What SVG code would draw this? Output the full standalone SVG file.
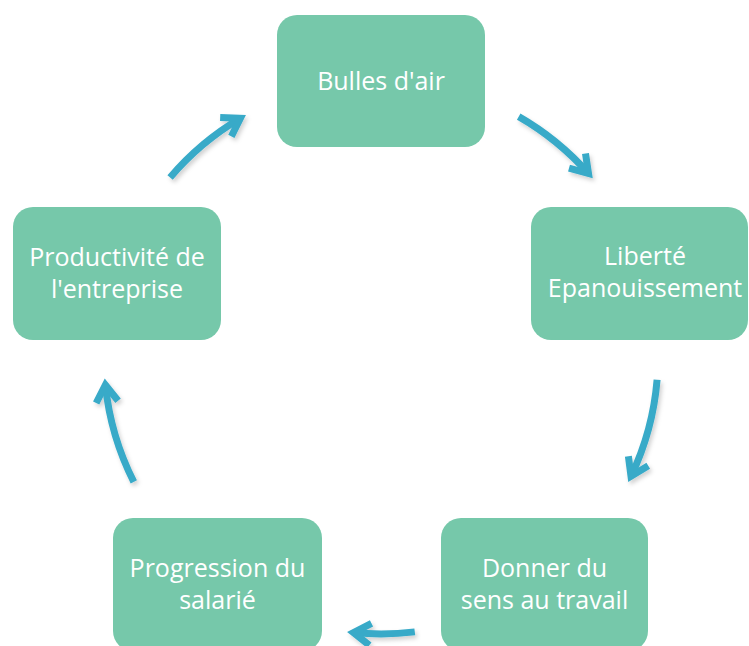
<svg xmlns="http://www.w3.org/2000/svg" width="749" height="646" viewBox="0 0 749 646">
<style>
.box{fill:#76C8AA;}
.lbl{font-family:"Open Sans","Noto Sans",sans-serif;font-size:25px;fill:#FFFFFF;text-anchor:middle;}
.arr{fill:none;stroke:#38AAC8;stroke-width:7;marker-end:url(#head);}
</style>
<defs>
<filter id="sh" x="-20%" y="-20%" width="140%" height="140%">
<feDropShadow dx="2" dy="3" stdDeviation="2" flood-color="#000" flood-opacity="0.18"/>
</filter>
<marker id="head" markerUnits="userSpaceOnUse" viewBox="-30 -20 40 40" refX="0" refY="0" markerWidth="40" markerHeight="40" orient="auto" overflow="visible">
<path d="M-17,-11 L0,0 L-17,11" fill="none" stroke="#38AAC8" stroke-width="7" stroke-linejoin="miter" stroke-miterlimit="6"/>
</marker>
</defs>
<rect width="749" height="646" fill="#FFFFFF"/>
<g id="connectors" filter="url(#sh)">
<path class="arr" d="M518.7,116.6 A277,277 0 0 1 588.5,173.5"/>
<path class="arr" d="M657.1,379.7 A277,277 0 0 1 631.0,476.3"/>
<path class="arr" d="M414.8,631.9 A277,277 0 0 1 353.5,632.6"/>
<path class="arr" d="M133.8,481.9 A277,277 0 0 1 105.4,385.0"/>
<path class="arr" d="M170.1,177.5 A277,277 0 0 1 240.4,118.3"/>
</g>
<g id="bulles">
<rect class="box" x="277" y="15" width="208" height="132" rx="20"/>
<text class="lbl" x="381" y="90">Bulles d'air</text>
</g>
<g id="liberte">
<rect class="box" x="531" y="207" width="217" height="133" rx="20"/>
<text class="lbl" x="645" y="265">Liberté</text>
<text class="lbl" x="645" y="297">Epanouissement</text>
</g>
<g id="donner">
<rect class="box" x="441" y="518" width="207" height="133" rx="20"/>
<text class="lbl" x="544.5" y="577">Donner du</text>
<text class="lbl" x="544.5" y="609">sens au travail</text>
</g>
<g id="progression">
<rect class="box" x="113" y="518" width="209" height="133" rx="20"/>
<text class="lbl" x="217.5" y="577">Progression du</text>
<text class="lbl" x="217.5" y="609">salarié</text>
</g>
<g id="productivite">
<rect class="box" x="13" y="207" width="208" height="133" rx="20"/>
<text class="lbl" x="117" y="266">Productivité de</text>
<text class="lbl" x="117" y="298">l'entreprise</text>
</g>
</svg>
